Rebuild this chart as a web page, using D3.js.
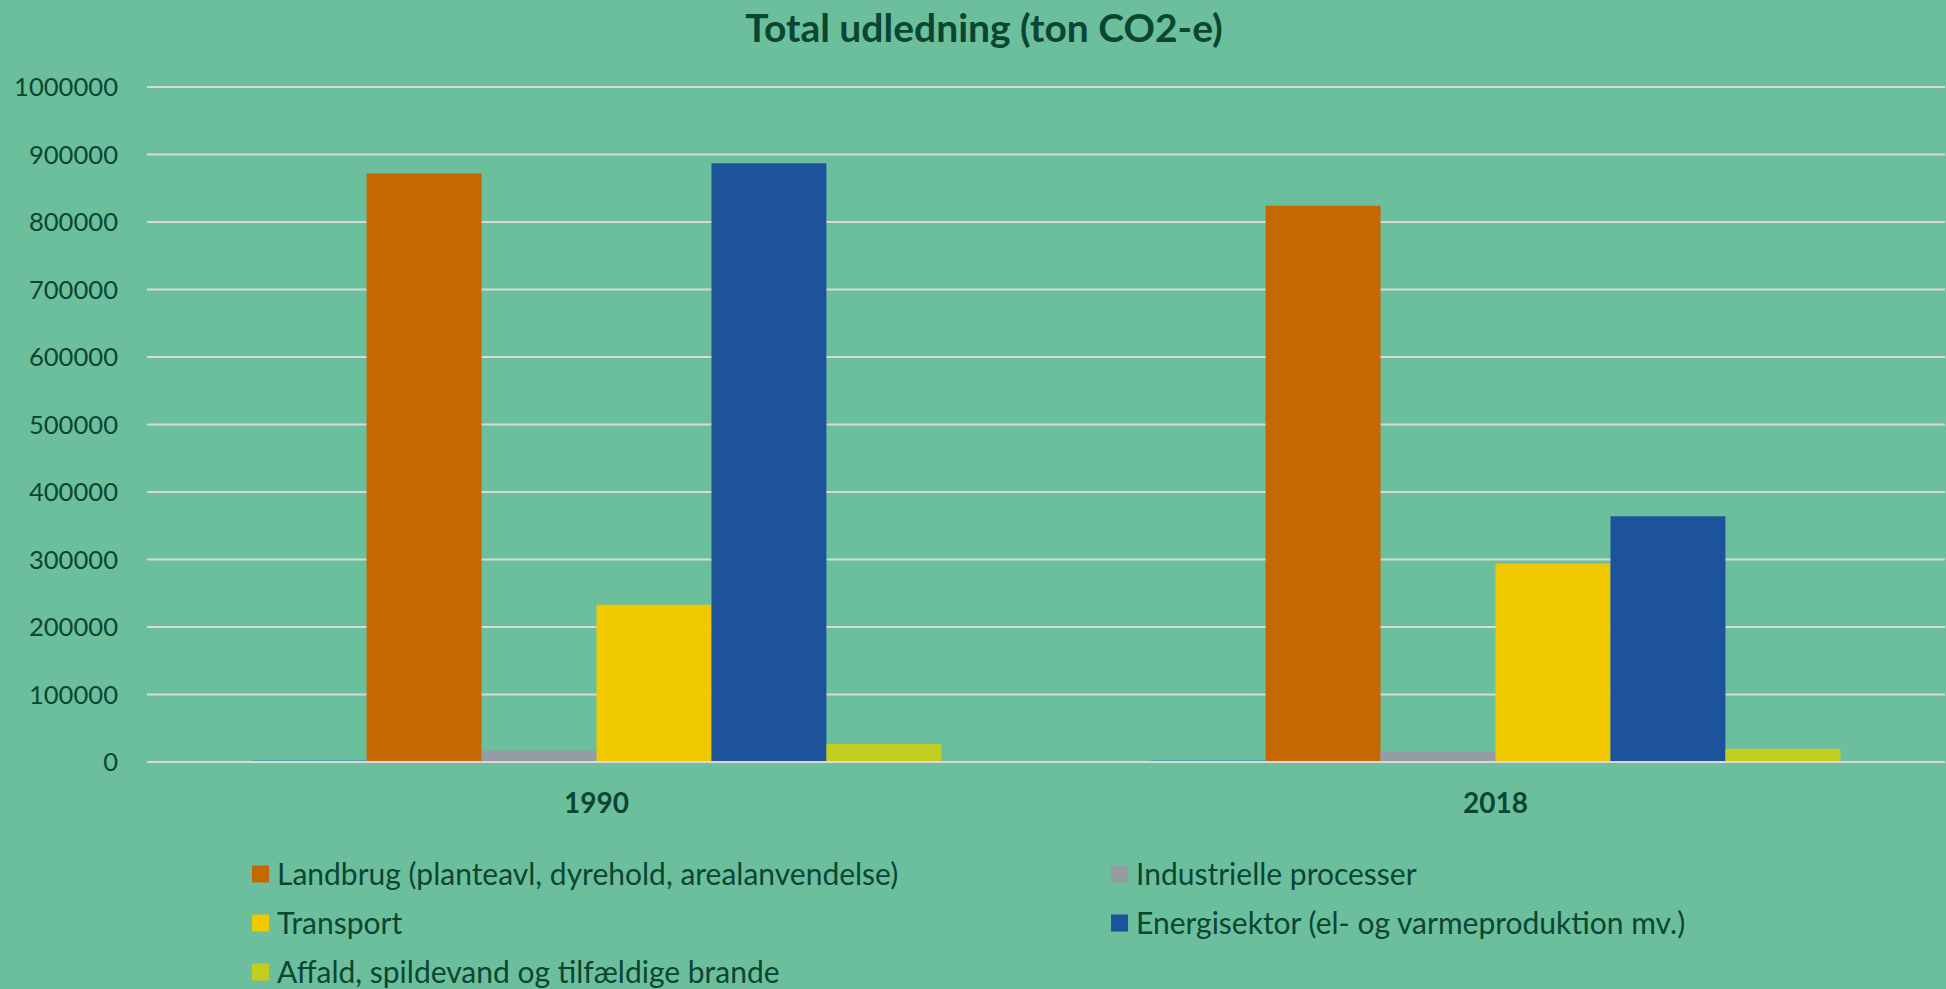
<!DOCTYPE html>
<html>
<head>
<meta charset="utf-8">
<script src="https://cdn.jsdelivr.net/npm/d3@7"></script>
<style>
  html, body { margin: 0; padding: 0; background: #6cbf9d; }
  svg { display: block; font-family: Lato, "Open Sans", sans-serif; }
</style>
</head>
<body>
<div id="chart"></div>
<script>
const years = ["1990", "2018"];

// first series has no legend entry (near-zero values)
const seriesNames = [
  "",
  "Landbrug (planteavl, dyrehold, arealanvendelse)",
  "Industrielle processer",
  "Transport",
  "Energisektor (el- og varmeproduktion mv.)",
  "Affald, spildevand og tilfældige brande",
];

const values1990 = [2500, 872000, 17000, 233000, 887000, 26500];
const values2018 = [2500, 824000, 15500, 294000, 364000, 19500];

const yTicks = [0, 100000, 200000, 300000, 400000, 500000, 600000, 700000, 800000, 900000, 1000000];

const seriesColors = ["#3f9eaa", "#c46800", "#969ca3", "#f0c900", "#1c539a", "#c2cf1f"];

const width = 1946;
const height = 989;
const textColor = "#0a4632";

const data = years.map((yr, i) => ({
  year: yr,
  values: (i === 0 ? values1990 : values2018).map((v, j) => ({ name: seriesNames[j], idx: j, value: v })),
}));

const svg = d3
  .select("#chart")
  .append("svg")
  .attr("width", width)
  .attr("height", height);

svg.append("rect").attr("width", width).attr("height", height).attr("fill", "#6cbf9d");

const x0 = d3.scaleBand().domain(years).range([147, 1945]);

const x1 = d3
  .scaleBand()
  .domain(d3.range(seriesNames.length))
  .range([0, x0.bandwidth()])
  .paddingInner(0)
  .paddingOuter(0.91);

const y = d3.scaleLinear().domain([0, 1000000]).range([762, 87]);

// gridlines
svg
  .append("g")
  .selectAll("line")
  .data(yTicks)
  .join("line")
  .attr("x1", 147)
  .attr("x2", 1945)
  .attr("y1", (d) => y(d))
  .attr("y2", (d) => y(d))
  .attr("stroke", "#d9d9d9")
  .attr("stroke-width", 2);

// y labels
svg
  .append("g")
  .selectAll("text")
  .data(yTicks)
  .join("text")
  .attr("x", 118)
  .attr("y", (d) => y(d))
  .attr("dy", "0.36em")
  .attr("text-anchor", "end")
  .attr("font-size", 25.6)
  .attr("fill", textColor)
  .text((d) => d);

// bars
const groups = svg
  .append("g")
  .selectAll("g")
  .data(data)
  .join("g")
  .attr("transform", (d) => `translate(${x0(d.year)},0)`);

groups
  .selectAll("rect")
  .data((d) => d.values)
  .join("rect")
  .attr("x", (d) => x1(d.idx))
  .attr("width", x1.bandwidth())
  .attr("y", (d) => y(d.value))
  .attr("height", (d) => y(0) - y(d.value) - 1)
  .attr("fill", (d) => seriesColors[d.idx]);

// x labels
svg
  .append("g")
  .selectAll("text")
  .data(years)
  .join("text")
  .attr("x", (d) => x0(d) + x0.bandwidth() / 2)
  .attr("y", 803)
  .attr("dy", "0.36em")
  .attr("text-anchor", "middle")
  .attr("font-size", 28)
  .attr("font-weight", "bold")
  .attr("fill", textColor)
  .text((d) => d);

// title
svg
  .append("text")
  .attr("x", 984)
  .attr("y", 28)
  .attr("dy", "0.36em")
  .attr("text-anchor", "middle")
  .attr("font-size", 39)
  .attr("font-weight", "bold")
  .attr("fill", textColor)
  .text("Total udledning (ton CO2-e)");

// legend, two columns, row-wise order
const legendItems = seriesNames.map((n, i) => ({ name: n, idx: i })).filter((d) => d.name !== "");
const legendCols = [252, 1111];
const legendRows = [874, 923, 972];

const legend = svg
  .append("g")
  .selectAll("g")
  .data(legendItems)
  .join("g")
  .attr("transform", (d, i) => `translate(${legendCols[i % 2]},${legendRows[Math.floor(i / 2)]})`);

legend
  .append("rect")
  .attr("x", 0)
  .attr("y", -8.5)
  .attr("width", 17)
  .attr("height", 17)
  .attr("fill", (d) => seriesColors[d.idx]);

legend
  .append("text")
  .attr("x", 25)
  .attr("y", 0)
  .attr("dy", "0.36em")
  .attr("font-size", 30)
  .attr("fill", textColor)
  .text((d) => d.name);
</script>
</body>
</html>
